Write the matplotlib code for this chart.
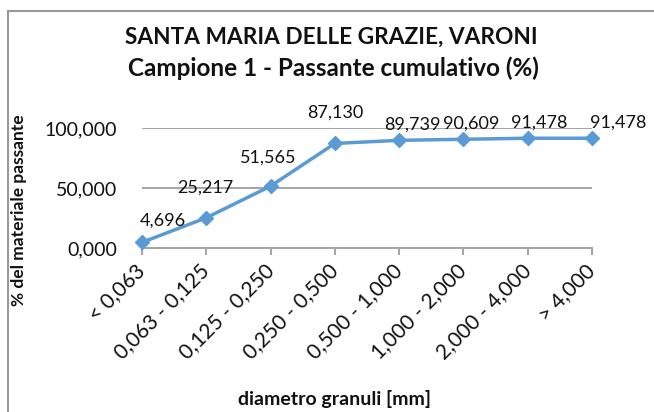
import numpy as np
import matplotlib
matplotlib.use('Agg')
import matplotlib.pyplot as plt
from matplotlib.lines import Line2D

# dati del grafico
classi = ['< 0,063', '0,063 - 0,125', '0,125 - 0,250', '0,250 - 0,500',
          '0,500 - 1,000', '1,000 - 2,000', '2,000 - 4,000', '> 4,000']
passante = [4.696, 25.217, 51.565, 87.130, 89.739, 90.609, 91.478, 91.478]
y_ticks = [0, 50, 100]

# spostamento delle etichette (pixel) rispetto al punto
label_offsets = [(21, 22), (-1, 30), (-2, 28), (0, 31), (13, 16), (8, 16), (11, 16), (26, 16)]

plt.rcParams['font.family'] = ['Lato', 'DejaVu Sans']

W, H = 654, 412
fig = plt.figure(figsize=(W / 100, H / 100), dpi=100)
ax = fig.add_axes([142 / W, 1 - 248 / H, (592 - 142) / W, 120 / H])

blu = '#5B9BD5'
grigio = '#A6A6A6'
testo = '#111111'

x = np.arange(len(classi))
ax.plot(x, passante, color=blu, lw=2.5, marker='D', ms=7.5, mec=blu, mfc=blu,
        clip_on=False, zorder=3)

def fmt(v):
    return '{:.3f}'.format(v).replace('.', ',')

for xi, v, off in zip(x, passante, label_offsets):
    ax.annotate(fmt(v), (xi, v), xytext=off, textcoords='offset pixels',
                ha='center', va='center', fontsize=13, color=testo,
                annotation_clip=False, zorder=4)

ax.set_xlim(0, len(classi) - 1)
ax.set_ylim(0, 100)
ax.set_yticks(y_ticks)
ax.set_yticklabels([fmt(v) for v in y_ticks], fontsize=14, color=testo)
ax.set_xticks(x)
ax.set_xticklabels(classi, rotation=45, ha='right', va='center',
                   rotation_mode='anchor', fontsize=15, color=testo)

for s in ['top', 'right', 'left']:
    ax.spines[s].set_visible(False)
ax.spines['bottom'].set_color(grigio)
ax.spines['bottom'].set_linewidth(1.5)
ax.tick_params(axis='y', length=0, pad=18)
ax.tick_params(axis='x', length=5, width=1.5, color=grigio, pad=9)
for yv in y_ticks[1:]:
    ax.axhline(yv, color=grigio, lw=1.5, zorder=1)

fig.text(331 / W, 1 - 37 / H, 'SANTA MARIA DELLE GRAZIE, VARONI', ha='center', va='center',
         fontsize=16.3, fontweight='bold', color=testo)
fig.text(333 / W, 1 - 68 / H, 'Campione 1 - Passante cumulativo (%)', ha='center', va='center',
         fontsize=17.5, fontweight='bold', color=testo)
fig.text(334 / W, 1 - 399 / H, 'diametro granuli [mm]', ha='center', va='center',
         fontsize=14, fontweight='bold', color=testo)
fig.text(19 / W, 1 - 210 / H, '% del materiale passante', ha='center', va='center',
         rotation=90, fontsize=12.5, fontweight='bold', color=testo)

# cornice del grafico (solo bordo sinistro e superiore visibili)
fig.add_artist(Line2D([8 / W, 1], [1 - 11 / H, 1 - 11 / H], color='#999999', lw=1.5))
fig.add_artist(Line2D([8 / W, 8 / W], [0, 1 - 11 / H], color='#999999', lw=1.5))

fig.savefig('out.png', dpi=100)
